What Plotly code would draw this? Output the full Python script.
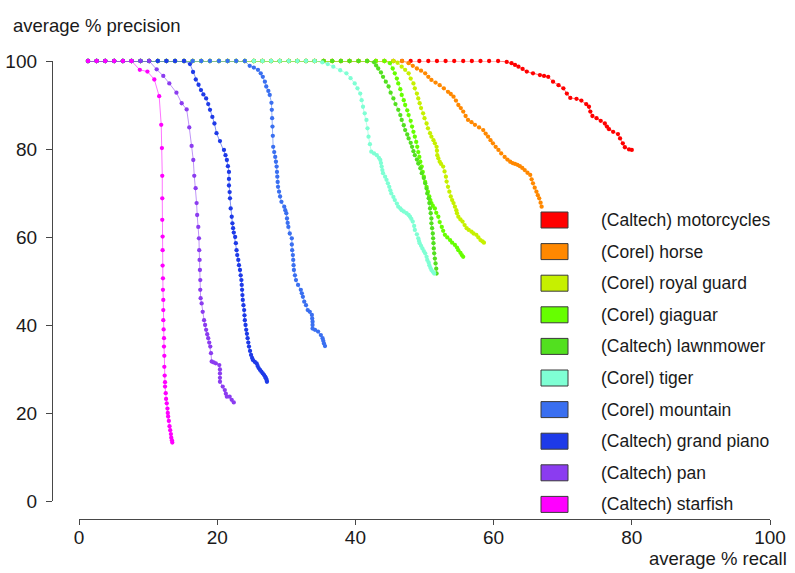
import plotly.graph_objects as go

# ---------------- data ----------------
names = ["(Caltech) motorcycles", "(Corel) horse", "(Corel) royal guard",
         "(Corel) giaguar", "(Caltech) lawnmower", "(Corel) tiger",
         "(Corel) mountain", "(Caltech) grand piano", "(Caltech) pan",
         "(Caltech) starfish"]
colors = ["#FF0000", "#FF8800", "#C6F000", "#66FF00", "#52E01F",
          "#7FFFD4", "#3A6FF0", "#1E3AE8", "#8B3CF0", "#FF00FF"]

# (recall %, precision %) pairs
motorcycles = [(1.3,100),(2.55,100),(3.8,100),(5.1,100),(6.35,100),(7.6,100),(8.9,100),(10.15,100),
    (11.4,100),(12.65,100),(13.9,100),(15.2,100),(16.45,100),(17.7,100),(18.95,100),(20.25,100),
    (21.5,100),(22.75,100),(24.0,100),(25.3,100),(26.55,100),(27.8,100),(29.05,100),(30.35,100),
    (31.6,100),(32.85,100),(34.1,100),(35.4,100),(36.65,100),(37.9,100),(39.15,100),(40.45,100),
    (41.7,100),(42.95,100),(44.2,100),(45.5,100),(46.75,100),(48.0,100),(49.25,100),(50.55,100),
    (51.8,100),(53.05,100),(54.3,100),(55.6,100),(56.85,100),(58.1,100),(59.35,100),(60.65,100),
    (61.9,99.8),(62.6,99.5),(63.1,99.1),(63.6,98.7),(64.2,98.2),(64.8,97.6),(65.7,97.2),(66.7,96.8),
    (67.3,96.6),(67.9,96.4),(68.6,95.3),(69.4,94.5),(70.1,93.8),(70.6,92.6),(71.1,91.6),(72.0,91.4),
    (72.7,91.0),(73.4,90.2),(73.8,89.6),(74.0,88.5),(74.3,87.5),(74.9,87.0),(75.5,86.4),(76.1,85.8),
    (76.4,85.1),(76.7,84.5),(77.3,83.9),(78.0,83.4),(78.3,82.4),(78.7,81.3),(79.0,80.4),(79.6,79.9),
    (80.0,79.8)]
horse = [(1.3,100),(2.55,100),(3.8,100),(5.1,100),(6.35,100),(7.6,100),(8.9,100),(10.15,100),
    (11.4,100),(12.65,100),(13.9,100),(15.2,100),(16.45,100),(17.7,100),(18.95,100),(20.25,100),
    (21.5,100),(22.75,100),(24.0,100),(25.3,100),(26.55,100),(27.8,100),(29.05,100),(30.35,100),
    (31.6,100),(32.85,100),(34.1,100),(35.4,100),(36.65,100),(37.9,100),(39.15,100),(40.45,100),
    (41.7,100),(42.95,100),(44.2,100),(45.5,100),(46.75,100),
    (47.7,99.5),(48.3,98.9),(48.9,98.3),(49.5,97.8),(50.1,97.2),(50.55,96.4),(51.0,95.7),(51.6,95.1),
    (52.2,94.5),(52.8,93.8),(53.4,93.0),(53.8,92.5),(54.2,91.9),(54.55,91.0),(54.9,90.0),(55.25,89.3),
    (55.6,88.5),(55.95,87.5),(56.3,86.6),(56.8,86.1),(57.3,85.5),(57.9,84.9),(58.5,84.3),(58.85,83.5),
    (59.2,82.8),(59.55,82.0),(59.9,81.3),(60.3,80.5),(60.7,79.8),(61.1,79.0),(61.6,78.2),(62.0,77.6),
    (62.4,77.1),(62.75,76.8),(63.1,76.6),(63.45,76.4),(63.8,76.1),(64.15,75.7),(64.5,75.2),(64.9,74.6),
    (65.3,74.1),(65.5,73.1),(65.7,72.2),(65.95,71.2),(66.2,70.3),(66.4,69.5),(66.6,68.8),(66.8,67.8),
    (66.95,66.9)]
royal_guard = [(1.3,100),(2.55,100),(3.8,100),(5.1,100),(6.35,100),(7.6,100),(8.9,100),(10.15,100),
    (11.4,100),(12.65,100),(13.9,100),(15.2,100),(16.45,100),(17.7,100),(18.95,100),(20.25,100),
    (21.5,100),(22.75,100),(24.0,100),(25.3,100),(26.55,100),(27.8,100),(29.05,100),(30.35,100),
    (31.6,100),(32.85,100),(34.1,100),(35.4,100),(36.65,100),(37.9,100),(39.15,100),(40.45,100),
    (41.7,100),(42.95,100),(44.2,100),(45.5,100),
    (46.1,99.6),(46.7,98.7),(47.2,98.0),(47.7,97.2),(48.0,96.0),(48.4,94.9),(48.6,93.8),(48.9,92.6),
    (49.1,91.5),(49.3,90.4),(49.5,89.3),(49.8,88.1),(50.0,87.0),(50.3,85.8),(50.5,84.7),(50.8,83.6),
    (51.0,82.8),(51.3,82.0),(51.5,81.3),(51.75,80.5),(51.8,79.6),(51.85,78.6),(52.0,77.9),(52.2,77.1),
    (52.4,76.6),(52.7,76.0),(52.9,74.9),(53.1,73.7),(53.2,72.6),(53.4,71.4),(53.6,70.3),(53.8,69.2),
    (54.0,68.4),(54.2,67.7),(54.4,66.9),(54.6,66.1),(54.7,65.4),(54.9,64.6),(55.2,64.0),(55.5,63.5),
    (55.8,62.7),(56.1,62.0),(56.4,61.6),(56.8,61.2),(57.1,60.8),(57.5,60.5),(57.8,59.9),(58.1,59.3),
    (58.4,59.0),(58.6,58.7)]
giaguar = [(1.3,100),(2.55,100),(3.8,100),(5.1,100),(6.35,100),(7.6,100),(8.9,100),(10.15,100),
    (11.4,100),(12.65,100),(13.9,100),(15.2,100),(16.45,100),(17.7,100),(18.95,100),(20.25,100),
    (21.5,100),(22.75,100),(24.0,100),(25.3,100),(26.55,100),(27.8,100),(29.05,100),(30.35,100),
    (31.6,100),(32.85,100),(34.1,100),(35.4,100),(36.65,100),(37.9,100),(39.15,100),(40.45,100),
    (41.7,100),(42.95,100),(44.2,100),
    (45.0,99.5),(45.4,98.3),(45.7,97.2),(46.0,96.0),(46.2,94.9),(46.5,93.6),(46.7,92.3),(47.0,91.1),
    (47.2,90.0),(47.5,88.8),(47.7,87.7),(48.0,86.4),(48.2,85.1),(48.4,83.9),(48.6,82.8),(48.8,81.6),
    (48.95,80.5),(49.1,79.3),(49.25,78.2),(49.4,77.1),(49.6,76.0),(49.75,74.8),(49.9,73.7),(50.1,72.5),
    (50.3,71.4),(50.5,70.3),(50.7,69.2),(50.85,68.4),(51.0,67.7),(51.2,67.1),(51.5,66.5),(51.7,65.5),
    (52.0,64.6),(52.2,63.4),(52.5,62.3),(52.7,61.4),(52.95,60.5),(53.3,59.9),(53.7,59.3),(54.0,58.7),
    (54.4,58.2),(54.7,57.6),(54.9,57.0),(55.2,56.4),(55.4,55.9),(55.6,55.5)]
lawnmower = [(1.3,100),(2.55,100),(3.8,100),(5.1,100),(6.35,100),(7.6,100),(8.9,100),(10.15,100),
    (11.4,100),(12.65,100),(13.9,100),(15.2,100),(16.45,100),(17.7,100),(18.95,100),(20.25,100),
    (21.5,100),(22.75,100),(24.0,100),(25.3,100),(26.55,100),(27.8,100),(29.05,100),(30.35,100),
    (31.6,100),(32.85,100),(34.1,100),(35.4,100),(36.65,100),(37.9,100),(39.15,100),(40.45,100),
    (41.7,100),
    (42.7,99.7),(43.0,99.0),(43.3,98.3),(43.7,97.4),(44.0,96.4),(44.4,95.3),(44.8,94.2),(45.1,92.8),
    (45.5,91.5),(45.8,90.2),(46.2,88.9),(46.5,87.7),(46.7,86.6),(47.0,85.4),(47.2,84.3),(47.5,83.3),
    (47.7,82.4),(48.0,81.4),(48.2,80.5),(48.4,79.5),(48.6,78.6),(48.9,77.6),(49.1,76.7),(49.4,75.6),
    (49.6,74.5),(49.9,73.4),(50.1,72.2),(50.3,71.0),(50.4,69.9),(50.6,68.8),(50.7,67.7),(50.8,66.5),
    (50.9,65.4),(51.0,64.2),(51.0,63.1),(51.1,62.0),(51.2,60.8),(51.25,59.7),(51.3,58.6),(51.35,57.4),
    (51.4,56.3),(51.5,55.1),(51.6,54.0),(51.7,52.8),(51.75,51.7)]
tiger = [(1.3,100),(2.55,100),(3.8,100),(5.1,100),(6.35,100),(7.6,100),(8.9,100),(10.15,100),
    (11.4,100),(12.65,100),(13.9,100),(15.2,100),(16.45,100),(17.7,100),(18.95,100),(20.25,100),
    (21.5,100),(22.75,100),(24.0,100),(25.3,100),(26.55,100),(27.8,100),(29.05,100),(30.35,100),
    (31.6,100),(32.85,100),(34.1,100),
    (35.2,99.7),(36.0,99.3),(36.8,98.7),(37.8,97.9),(38.7,97.2),(39.3,96.1),(39.9,94.9),(40.3,93.8),
    (40.7,92.6),(40.9,91.1),(41.1,89.6),(41.35,88.1),(41.6,86.6),(41.75,84.7),(41.9,82.8),(42.1,81.1),
    (42.3,79.4),(42.7,79.0),(43.1,78.6),(43.4,78.0),(43.6,77.5),(43.7,76.8),(43.8,76.0),(43.9,75.2),
    (44.0,74.5),(44.3,73.7),(44.5,73.0),(44.7,72.2),(44.9,71.4),(45.05,70.6),(45.2,69.9),(45.5,69.1),
    (45.7,68.4),(46.0,67.6),(46.2,66.9),(46.5,66.5),(46.7,66.1),(47.0,65.8),(47.4,65.4),(47.7,65.0),
    (47.9,64.6),(48.1,64.1),(48.3,63.5),(48.5,62.5),(48.6,61.6),(48.9,60.6),(49.1,59.7),(49.2,59.1),
    (49.3,58.6),(49.5,58.0),(49.7,57.4),(49.9,56.8),(50.1,56.3),(50.3,55.5),(50.4,54.8),(50.6,54.2),
    (50.7,53.6),(50.85,53.0),(51.0,52.5),(51.2,52.1),(51.4,51.7)]
mountain = [(1.3,100),(2.55,100),(3.8,100),(5.1,100),(6.35,100),(7.6,100),(8.9,100),(10.15,100),
    (11.4,100),(12.65,100),(13.9,100),(15.2,100),(16.45,100),(17.7,100),(18.95,100),(20.25,100),
    (21.5,100),(22.75,100),(24.0,100),
    (24.7,98.9),(25.3,98.5),(25.9,98.0),(26.3,97.2),(26.6,96.4),(26.9,95.3),(27.1,94.2),(27.4,93.2),
    (27.6,92.3),(27.85,90.5),(27.9,88.9),(27.95,87.0),(28.0,85.1),(28.05,83.0),(28.1,80.5),(28.25,79.3),
    (28.4,78.2),(28.5,77.1),(28.6,76.0),(28.65,74.8),(28.7,73.7),(28.75,72.5),(28.8,71.4),(28.95,70.3),
    (29.1,69.2),(29.3,68.0),(29.7,66.9),(29.85,66.1),(30.0,65.4),(30.1,64.2),(30.2,63.2),(30.3,62.3),
    (30.5,60.8),(30.8,59.7),(30.8,58.3),(30.85,57.0),(30.95,55.9),(31.0,54.8),(31.05,53.6),(31.1,52.5),
    (31.25,51.3),(31.4,50.2),(31.7,49.1),(32.1,48.0),(32.25,47.2),(32.4,46.4),(32.6,45.3),(32.85,44.5),
    (33.1,43.4),(33.4,43.0),(33.7,42.3),(33.75,41.5),(33.8,40.75),(33.8,40.0),(33.8,39.2),(34.15,38.9),
    (34.6,38.5),(35.0,37.7),(35.25,37.0),(35.35,36.4),(35.45,35.8),(35.6,35.2)]
grand_piano = [(1.3,100),(2.55,100),(3.8,100),(5.1,100),(6.35,100),(7.6,100),(8.9,100),(10.15,100),
    (11.4,100),(12.65,100),(13.9,100),(15.2,100),
    (16.06,99.3),(16.5,97.5),(16.9,95.8),(17.3,94.6),(17.65,93.4),(18.0,92.4),(18.4,91.5),(18.7,90.2),
    (18.96,88.9),(19.3,87.3),(19.6,85.8),(19.9,83.6),(20.4,81.8),(20.98,79.8),(21.2,78.6),(21.4,77.5),
    (21.55,76.1),(21.7,74.8),(21.7,73.2),(21.7,71.7),(21.8,70.2),(21.85,68.8),(21.95,66.5),(22.1,64.6),
    (22.2,63.1),(22.3,62.0),(22.4,61.0),(22.6,60.0),(22.7,58.6),(22.8,57.0),(22.9,55.9),(23.05,54.8),
    (23.15,53.6),(23.3,52.5),(23.4,51.3),(23.5,50.2),(23.55,49.1),(23.6,48.0),(23.65,46.8),(23.7,45.7),
    (23.8,44.5),(23.9,43.4),(23.95,42.2),(24.0,41.1),(24.1,40.0),(24.2,38.9),(24.3,38.0),(24.4,37.0),
    (24.5,36.0),(24.6,35.1),(24.75,34.1),(24.9,33.2),(25.05,32.5),(25.2,32.0),(25.45,31.6),(25.7,31.3),
    (25.85,30.7),(26.0,30.2),(26.2,29.8),(26.4,29.4),(26.6,29.0),(26.8,28.6),(26.95,28.2),(27.05,27.9),
    (27.15,27.5),(27.2,27.1)]
pan = [(1.3,100),(2.55,100),(3.8,100),(5.1,100),(6.35,100),(7.6,100),(8.9,100),(10.15,100),
    (11.24,98.1),(12.2,96.6),(13.07,94.9),(14.1,92.8),(14.86,90.4),(15.58,89.0),(15.96,84.9),(16.3,80.7),
    (16.54,77.5),(16.68,73.9),(16.88,71.1),(17.02,67.7),(17.1,65.0),(17.26,62.3),(17.36,59.7),(17.4,57.0),
    (17.45,54.8),(17.5,52.5),(17.55,50.2),(17.55,48.0),(17.6,46.1),(17.75,44.9),(17.9,43.0),(18.1,41.1),
    (18.25,40.0),(18.4,38.9),(18.55,37.9),(18.7,37.0),(18.85,36.0),(19.0,35.1),(19.1,33.6),(19.2,31.7),
    (19.5,31.5),(19.8,31.3),(20.3,30.9),(20.4,29.9),(20.4,29.0),(20.4,28.0),(20.4,27.1),(20.8,26.0),
    (21.1,25.2),(21.25,24.4),(21.4,23.7),(21.8,23.7),(22.1,23.0),(22.4,22.4)]
starfish = [(1.3,100),(2.55,100),(3.8,100),(5.1,100),(6.35,100),(7.6,100),
    (8.8,98.0),(9.9,97.6),(10.9,95.8),(11.6,92.0),(11.9,85.5),(12.0,80.2),(12.05,73.9),(12.05,68.8),
    (12.05,63.9),(12.1,60.1),(12.1,57.0),(12.1,53.5),(12.15,50.6),(12.15,48.0),(12.2,45.7),(12.2,43.4),
    (12.2,41.1),(12.25,39.0),(12.3,37.0),(12.3,35.1),(12.35,33.0),(12.35,30.5),(12.4,28.5),(12.45,27.0),
    (12.45,26.0),(12.55,24.5),(12.6,23.2),(12.7,22.2),(12.8,21.0),(12.85,20.0),(12.9,19.2),(13.0,18.2),
    (13.1,17.0),(13.2,16.1),(13.3,15.2),(13.35,14.4),(13.45,13.8),(13.5,13.3)]

series = [motorcycles, horse, royal_guard, giaguar, lawnmower, tiger,
          mountain, grand_piano, pan, starfish]

x_ticks = [0, 20, 40, 60, 80, 100]
y_ticks = [0, 20, 40, 60, 80, 100]

# ---------------- layout helpers ----------------
W, H = 795, 573
FONT = "Liberation Sans, Arial, Helvetica, sans-serif"
TICK_FONT = "Liberation Sans Narrow, Arial Narrow, Liberation Sans, sans-serif"
AXIS_COLOR = "#474747"


def px(v):
    return v / W


def py(v):
    return 1 - v / H


def rgba(hexcol, a):
    h = hexcol.lstrip("#")
    r, g, b = int(h[0:2], 16), int(h[2:4], 16), int(h[4:6], 16)
    return f"rgba({r},{g},{b},{a})"


fig = go.Figure()
for name, col, pts in zip(names, colors, series):
    xs = [p[0] for p in pts]
    ys = [p[1] for p in pts]
    fig.add_trace(go.Scatter(
        x=xs, y=ys, mode="lines+markers", name=name,
        line=dict(color=rgba(col, 0.55), width=1),
        marker=dict(color=col, size=4.3, line=dict(width=0)),
        cliponaxis=False, showlegend=False, hoverinfo="skip"))

# manual legend (coloured boxes + labels)
shapes = []
annotations = []
LEG_TOP, LEG_STEP = 220, 31.6
for i, (name, col) in enumerate(zip(names, colors)):
    yc = LEG_TOP + LEG_STEP * i
    shapes.append(dict(type="rect", xref="paper", yref="paper",
                       x0=px(541), x1=px(568), y0=py(yc + 8), y1=py(yc - 8),
                       fillcolor=col, line=dict(color="#3a3a3a", width=1)))
    annotations.append(dict(text=name, xref="paper", yref="paper",
                            x=px(599), y=py(yc), xanchor="left", yanchor="middle",
                            showarrow=False, font=dict(size=17.5, color="#1a1a1a", family=FONT)))

annotations.append(dict(text="average % precision", xref="paper", yref="paper",
                        x=px(11), y=py(25), xanchor="left", yanchor="middle",
                        showarrow=False, font=dict(size=18.5, color="#1a1a1a", family=FONT)))
annotations.append(dict(text="average % recall", xref="paper", yref="paper",
                        x=px(789), y=py(558), xanchor="right", yanchor="middle",
                        showarrow=False, font=dict(size=18.5, color="#1a1a1a", family=FONT)))

axis_common = dict(showline=True, linecolor=AXIS_COLOR, linewidth=1.3,
                   ticks="outside", tickcolor=AXIS_COLOR, tickwidth=1.3,
                   showgrid=False, zeroline=False, range=[0, 100],
                   tickfont=dict(size=19, color="#1a1a1a", family=TICK_FONT),
                   anchor="free", fixedrange=True, automargin=False)

fig.update_layout(
    width=W, height=H,
    margin=dict(l=0, r=0, t=0, b=0, pad=0, autoexpand=False),
    paper_bgcolor="white", plot_bgcolor="white",
    font=dict(family=FONT),
    xaxis=dict(axis_common, domain=[px(79), px(770)], position=py(519),
               tickvals=x_ticks, ticklen=5, ticklabelstandoff=-4),
    yaxis=dict(axis_common, domain=[py(501), py(61)], position=px(52),
               tickvals=y_ticks, ticklen=6, ticklabelstandoff=5),
    shapes=shapes, annotations=annotations,
    showlegend=False,
)

fig.write_html("out.html", config={"displayModeBar": False})
